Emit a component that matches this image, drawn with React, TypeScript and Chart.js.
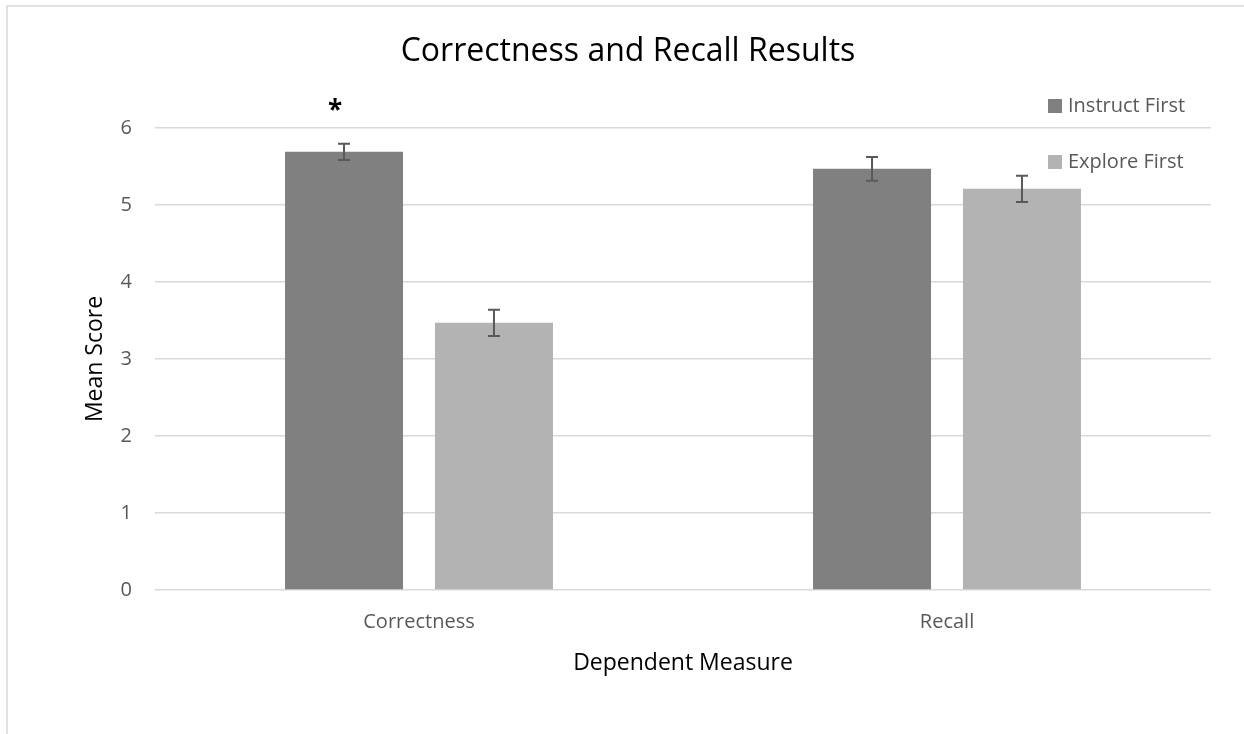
import React, { useEffect, useRef } from 'react';
import { Chart, registerables } from 'chart.js';

Chart.register(...registerables);

// ---- data ----
const categories = ['Correctness', 'Recall'];
const seriesNames = ['Instruct First', 'Explore First'];
const instructMeans = [5.69, 5.47];
const exploreMeans = [3.47, 5.21];
const instructErrors = [0.105, 0.155];
const exploreErrors = [0.17, 0.17];
const instructMarks = ['*', ''];
const exploreMarks = ['', ''];
const yTickValues = [0, 1, 2, 3, 4, 5, 6];
const chartTitle = 'Correctness and Recall Results';
const xAxisTitle = 'Dependent Measure';
const yAxisTitle = 'Mean Score';
const markLevel = 6.3;

// ---- styles ----
const FONT = "'Open Sans', sans-serif";
const instructColor = '#808080';
const exploreColor = '#b3b3b3';
const errorColor = '#595959';
const gridColor = '#d9d9d9';
const labelColor = '#595959';

const decorPlugin = {
  id: 'decor',
  beforeDraw(chart: any) {
    const ctx = chart.ctx;
    ctx.save();
    ctx.fillStyle = '#ffffff';
    ctx.fillRect(0, 0, chart.width, chart.height);
    ctx.strokeStyle = gridColor;
    ctx.lineWidth = 1.5;
    ctx.strokeRect(7, 6, chart.width + 60, chart.height + 60);
    ctx.restore();
  },
  afterDatasetsDraw(chart: any) {
    const ctx = chart.ctx;
    const yScale = chart.scales.y;
    ctx.save();
    chart.data.datasets.forEach((ds: any, i: number) => {
      const meta = chart.getDatasetMeta(i);
      meta.data.forEach((bar: any, j: number) => {
        const v = ds.data[j];
        const e = ds.errors[j];
        const yTop = yScale.getPixelForValue(v + e);
        const yBot = yScale.getPixelForValue(v - e);
        const x = bar.x;
        ctx.strokeStyle = errorColor;
        ctx.lineWidth = 2;
        ctx.beginPath();
        ctx.moveTo(x, yTop);
        ctx.lineTo(x, yBot);
        ctx.moveTo(x - 6, yTop);
        ctx.lineTo(x + 6, yTop);
        ctx.moveTo(x - 6, yBot);
        ctx.lineTo(x + 6, yBot);
        ctx.stroke();
        const mark = ds.marks[j];
        if (mark) {
          ctx.fillStyle = '#000000';
          ctx.font = `bold 26px ${FONT}`;
          ctx.textAlign = 'center';
          ctx.textBaseline = 'middle';
          ctx.fillText(mark, x - 9, yScale.getPixelForValue(markLevel) + 7);
        }
      });
    });
    ctx.restore();
  },
  afterDraw(chart: any) {
    const ctx = chart.ctx;
    ctx.save();
    // title
    ctx.fillStyle = '#000000';
    ctx.font = `32px ${FONT}`;
    ctx.textAlign = 'center';
    ctx.textBaseline = 'middle';
    ctx.fillText(chartTitle, 628, 52);
    // legend
    const legendX = 1048;
    const legendY = [106, 162];
    chart.data.datasets.forEach((ds: any, i: number) => {
      const cy = legendY[i];
      ctx.fillStyle = ds.backgroundColor;
      ctx.fillRect(legendX, cy - 7, 14, 14);
      ctx.fillStyle = labelColor;
      ctx.font = `20px ${FONT}`;
      ctx.textAlign = 'left';
      ctx.textBaseline = 'middle';
      ctx.fillText(ds.label, legendX + 20, cy);
    });
    ctx.restore();
  },
};

export default function App() {
  const canvasRef = useRef<HTMLCanvasElement | null>(null);

  useEffect(() => {
    if (!canvasRef.current) return;
    const chart = new Chart(canvasRef.current, {
      type: 'bar',
      data: {
        labels: categories,
        datasets: [
          {
            label: seriesNames[0],
            data: instructMeans,
            errors: instructErrors,
            marks: instructMarks,
            backgroundColor: instructColor,
            categoryPercentage: 0.568,
            barPercentage: 0.787,
          } as any,
          {
            label: seriesNames[1],
            data: exploreMeans,
            errors: exploreErrors,
            marks: exploreMarks,
            backgroundColor: exploreColor,
            categoryPercentage: 0.568,
            barPercentage: 0.787,
          } as any,
        ],
      },
      options: {
        responsive: false,
        animation: false,
        layout: { padding: { left: 0, right: 33, top: 128, bottom: 50 } },
        plugins: {
          legend: { display: false },
          title: { display: false },
          tooltip: { enabled: false },
        },
        font: { family: FONT },
        scales: {
          x: {
            grid: { display: false },
            border: { display: false },
            ticks: { color: labelColor, font: { family: FONT, size: 20 }, padding: 12 },
            title: {
              display: true,
              text: xAxisTitle,
              color: '#000000',
              font: { family: FONT, size: 23 },
              padding: { top: 0, bottom: 7 },
            },
            afterFit: (scale: any) => {
              scale.height = 94;
            },
          },
          y: {
            min: 0,
            max: 6,
            grid: { color: gridColor, lineWidth: 1.5, drawTicks: false },
            border: { display: false },
            ticks: { color: labelColor, font: { family: FONT, size: 20 }, padding: 23 },
            afterBuildTicks: (scale: any) => {
              scale.ticks = yTickValues.map((v) => ({ value: v }));
            },
            title: {
              display: true,
              text: yAxisTitle,
              color: '#000000',
              font: { family: FONT, size: 23 },
              padding: { top: 82, bottom: 0 },
            },
            afterFit: (scale: any) => {
              scale.width = 155;
            },
          },
        },
      } as any,
      plugins: [decorPlugin],
    });
    return () => chart.destroy();
  }, []);

  return (
    <div style={{ position: 'absolute', left: 0, top: 0, width: 1244, height: 734, background: '#fff' }}>
      <canvas ref={canvasRef} width={1244} height={734} style={{ display: 'block' }} />
    </div>
  );
}
